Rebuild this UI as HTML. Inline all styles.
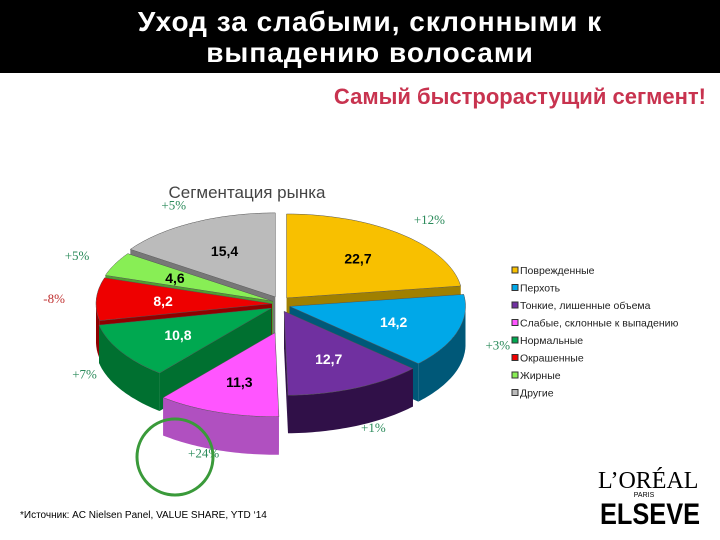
<!DOCTYPE html>
<html><head><meta charset="utf-8"><style>
body{margin:0;width:720px;height:540px;background:#fff;font-family:"Liberation Sans",sans-serif;overflow:hidden;position:relative}
#hdr{position:absolute;left:0;top:0;width:720px;height:73px;background:#000;color:#fff;text-align:center;font-weight:bold;font-size:28px;line-height:31px;letter-spacing:1px;padding-top:6px;box-sizing:border-box;padding-left:20px}
#sub{position:absolute;right:14px;top:84px;color:#c8334f;font-weight:bold;font-size:22px}
#foot{position:absolute;left:20px;top:510px;font-size:10px;color:#000}
</style></head><body>
<div id="hdr">Уход за слабыми, склонными к<br>выпадению волосами</div>
<div id="sub">Самый быстрорастущий сегмент!</div>
<div id="foot">*Источник: AC Nielsen Panel, VALUE SHARE, YTD ‘14</div>
<svg id="chart" width="720" height="540" style="position:absolute;left:0;top:0">
<text x="247" y="198" text-anchor="middle" font-size="17" fill="#444">Сегментация рынка</text>
<g id="pie"></g>
<g id="legend"></g>
<circle cx="175" cy="457" r="38" fill="none" stroke="#3a9a3a" stroke-width="3"/>
<text x="598" y="488" font-size="24" font-family="Liberation Serif">L’ORÉAL</text>
<text x="644" y="497" font-size="7" text-anchor="middle">PARIS</text>
<text x="600" y="524" font-size="30" font-weight="bold" textLength="100" lengthAdjust="spacingAndGlyphs">ELSEVE</text>
</svg>
<script>
const categories=["Поврежденные","Перхоть","Тонкие, лишенные объема","Слабые, склонные к выпадению","Нормальные","Окрашенные","Жирные","Другие"];
const values=[22.7,14.2,12.7,11.3,10.8,8.2,4.6,15.4];
const valueLabels=["22,7","14,2","12,7","11,3","10,8","8,2","4,6","15,4"];
const growthLabels=["+12%","+3%","+1%","+24%","+7%","-8%","+5%","+5%"];
const colors=["#f8c000","#00a8e8","#7030a0","#ff55ff","#00a850","#ee0000","#88ee55","#bbbbbb"];
const sideColors=["#a08000","#005878","#301048","#b050c0","#007030","#900000","#50a030","#777777"];
const labelColors=["#000","#fff","#fff","#000","#fff","#fff","#000","#000"];
const growthColors=["#2a8a5a","#2a8a5a","#2a8a5a","#2a8a5a","#2a8a5a","#c03030","#2a8a5a","#2a8a5a"];
const explode=[10,10,10,38,10,8,8,10];
const NS="http://www.w3.org/2000/svg";
const cx=280,cy=304,rx=176,ry=84,depth=38;
const total=values.reduce((a,b)=>a+b,0);
function pt(t,ox,oy,dy,s){s=s||1;return [cx+ox+rx*s*Math.sin(t),cy+oy+dy-ry*s*Math.cos(t)];}
function mk(tag,attrs,name){const e=document.createElementNS(NS,tag);for(const k in attrs)e.setAttribute(k,attrs[k]);


return e;}
const pie=document.getElementById('pie');
let acc=0;const slices=[];
values.forEach((v,i)=>{const a1=acc/total*2*Math.PI;acc+=v;const a2=acc/total*2*Math.PI;slices.push({i,a1,a2,m:(a1+a2)/2});});
function arcPath(a1,a2,ox,oy,dy){let d="";const n=40;for(let k=0;k<=n;k++){const t=a1+(a2-a1)*k/n;const p=pt(t,ox,oy,dy);d+=(k?"L":"M")+p[0].toFixed(1)+","+p[1].toFixed(1);}return d;}
const order=slices.slice().sort((a,b)=>(-Math.cos(a.m))-(-Math.cos(b.m)));
order.forEach(s=>{const i=s.i;const ox=explode[i]*Math.sin(s.m)*(i===3?0.4:1),oy=explode[i]*0.8*-Math.cos(s.m);
s.ox=ox;s.oy=oy;
const g=mk('g',{},'slice-'+i);
const c=[cx+ox,cy+oy];
[s.a1,s.a2].forEach(a=>{const p=pt(a,ox,oy,0);g.appendChild(mk('path',{d:`M${c[0]},${c[1]}L${p[0]},${p[1]}L${p[0]},${p[1]+depth}L${c[0]},${c[1]+depth}Z`,fill:sideColors[i]},'slice-wall-'+i));});
let b1=Math.max(s.a1,Math.PI/2),b2=Math.min(s.a2,3*Math.PI/2);
if(b2>b1){let top=arcPath(b1,b2,ox,oy,0);let bot="";const n=40;for(let k=n;k>=0;k--){const t=b1+(b2-b1)*k/n;const p=pt(t,ox,oy,depth);bot+="L"+p[0].toFixed(1)+","+p[1].toFixed(1);}
g.appendChild(mk('path',{d:top+bot+"Z",fill:sideColors[i]},'slice-side-'+i));}
g.appendChild(mk('path',{d:`M${c[0]},${c[1]}`+arcPath(s.a1,s.a2,ox,oy,0).replace(/^M/,'L')+"Z",fill:colors[i],stroke:"#555","stroke-width":0.5},'slice-top-'+i));
const lp=pt(s.m,ox,oy,0,0.62);
const t=mk('text',{x:lp[0],y:lp[1]+5,'text-anchor':'middle','font-size':14,'font-weight':'bold',fill:labelColors[i]},'value-label-'+i);t.textContent=valueLabels[i];g.appendChild(t);
pie.appendChild(g);
});
slices.forEach(s=>{const i=s.i;const p=pt(s.m,s.ox,s.oy,depth*Math.max(0,-Math.cos(s.m))*0.6,1.24);
const t=mk('text',{x:p[0],y:p[1]+5,'text-anchor':'middle','font-size':13,fill:growthColors[i],'font-family':'Liberation Serif'},'growth-label-'+i);t.textContent=growthLabels[i];pie.appendChild(t);});
const lg=document.getElementById('legend');
categories.forEach((c,i)=>{const y=274+i*17.5;
lg.appendChild(mk('rect',{x:512,y:y-7,width:6,height:6,fill:colors[i],stroke:"#333","stroke-width":1},'legend-swatch-'+i));
const t=mk('text',{x:520,y:y,'font-size':10.5,fill:"#222"},'legend-entry-'+i);t.textContent=c;lg.appendChild(t);});
</script>
</body></html>
